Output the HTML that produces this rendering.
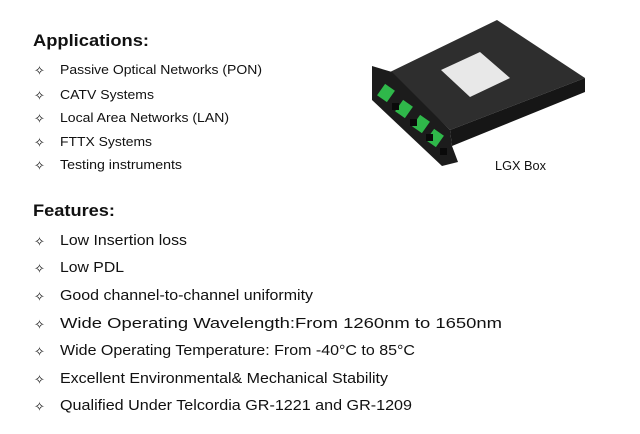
<!DOCTYPE html>
<html><head><meta charset="utf-8"><style>
html,body{margin:0;padding:0;background:#fff;}
svg{display:block}
text{font-family:"Liberation Sans",Arial,sans-serif;fill:#111}
.h{font-weight:bold;font-size:16.5px}
.a{font-size:12.5px}
.f{font-size:14.5px}
.b{font-family:"DejaVu Sans",sans-serif;font-size:13px}
</style></head><body>
<svg width="640" height="434" viewBox="0 0 640 434" xmlns="http://www.w3.org/2000/svg">
<rect width="640" height="434" fill="#fff"/>
<text class="h" x="33" y="46" textLength="116" lengthAdjust="spacingAndGlyphs">Applications:</text>
<text class="b" x="34" y="75">✧</text><text class="b" x="34" y="100">✧</text><text class="b" x="34" y="123">✧</text><text class="b" x="34" y="147">✧</text><text class="b" x="34" y="170">✧</text>
<text class="a" x="60" y="74" textLength="202" lengthAdjust="spacingAndGlyphs">Passive Optical Networks (PON)</text>
<text class="a" x="60" y="99" textLength="94" lengthAdjust="spacingAndGlyphs">CATV Systems</text>
<text class="a" x="60" y="122" textLength="169" lengthAdjust="spacingAndGlyphs">Local Area Networks (LAN)</text>
<text class="a" x="60" y="146" textLength="92" lengthAdjust="spacingAndGlyphs">FTTX Systems</text>
<text class="a" x="60" y="169" textLength="122" lengthAdjust="spacingAndGlyphs">Testing instruments</text>

<text class="h" x="33" y="216" textLength="82" lengthAdjust="spacingAndGlyphs">Features:</text>
<text class="b" x="34" y="246">✧</text><text class="b" x="34" y="273">✧</text><text class="b" x="34" y="301">✧</text><text class="b" x="34" y="329">✧</text><text class="b" x="34" y="356">✧</text><text class="b" x="34" y="384">✧</text><text class="b" x="34" y="411">✧</text>
<text class="f" x="60" y="245" textLength="127" lengthAdjust="spacingAndGlyphs">Low Insertion loss</text>
<text class="f" x="60" y="272" textLength="64" lengthAdjust="spacingAndGlyphs">Low PDL</text>
<text class="f" x="60" y="300" textLength="253" lengthAdjust="spacingAndGlyphs">Good channel-to-channel uniformity</text>
<text class="f" x="60" y="328" textLength="442" lengthAdjust="spacingAndGlyphs">Wide Operating Wavelength:From 1260nm to 1650nm</text>
<text class="f" x="60" y="355" textLength="355" lengthAdjust="spacingAndGlyphs">Wide Operating Temperature: From -40°C to 85°C</text>
<text class="f" x="60" y="383" textLength="328" lengthAdjust="spacingAndGlyphs">Excellent Environmental&amp; Mechanical Stability</text>
<text class="f" x="60" y="410" textLength="352" lengthAdjust="spacingAndGlyphs">Qualified Under Telcordia GR-1221 and GR-1209</text>

<!-- LGX box -->
<polygon points="390,72 497,20 585,78 450,130" fill="#2e2e2e"/>
<polygon points="450,130 585,78 585,92 452,146" fill="#161616"/>
<polygon points="372,66 392,72 450,130 452,146 458,162 442,166 372,100" fill="#1c1c1c"/>
<polygon points="441,70 480,52 510,78 470,97" fill="#e8e8e8"/>
<g fill="#2fb84a">
<rect x="380" y="86" width="12" height="14" transform="rotate(35 386 93)"/>
<rect x="398" y="102" width="12" height="14" transform="rotate(35 404 109)"/>
<rect x="415" y="117" width="12" height="14" transform="rotate(35 421 124)"/>
<rect x="429" y="131" width="12" height="14" transform="rotate(35 435 138)"/>
</g>
<g fill="#0a0a0a">
<rect x="392" y="103" width="7" height="7"/>
<rect x="410" y="119" width="7" height="7"/>
<rect x="426" y="134" width="7" height="7"/>
<rect x="440" y="148" width="7" height="7"/>
</g>
<text x="495" y="170" style="font-size:13px" textLength="51" lengthAdjust="spacingAndGlyphs">LGX Box</text>
</svg>
</body></html>
